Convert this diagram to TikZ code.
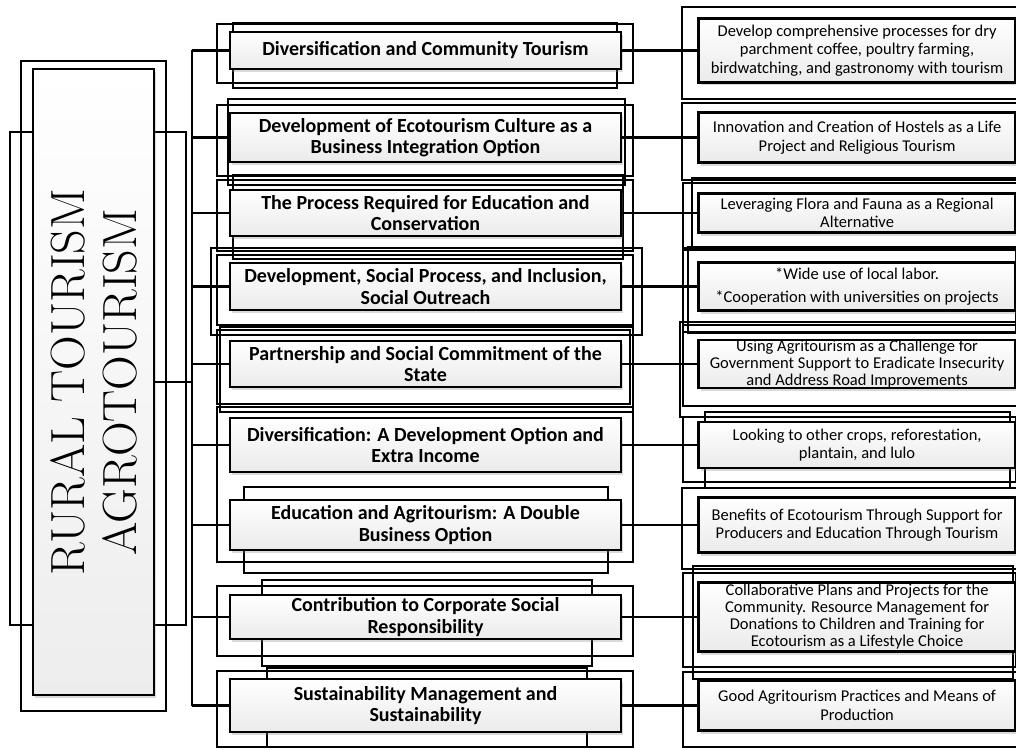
\documentclass[tikz,border=0pt]{standalone}
\usepackage{fontspec}
\newfontfamily\calibri{Carlito}
\usetikzlibrary{positioning,fit,calc,shadows}
\tikzset{
block/.style = {draw, line width=2.6pt, rectangle, align=center, top color=white, bottom color=gray!16,
  drop shadow={shadow xshift=2pt, shadow yshift=-3pt, opacity=.3}, minimum width=391pt, inner sep=0pt,
  font=\calibri\bfseries\fontsize{20}{21.5}\selectfont},
detail/.style = {block, minimum width=317pt, font=\calibri\fontsize{16.5}{18.5}\selectfont},
root/.style = {draw, line width=2.2pt, rectangle, top color=white, bottom color=gray!14,
  drop shadow={shadow xshift=2pt, shadow yshift=-3pt, opacity=.3}, minimum width=121pt, minimum height=626pt},
frame/.style = {draw, line width=1.3pt},
heavyframe/.style = {draw, line width=2.6pt},
link/.style = {line width=2.3pt}
}
\begin{document}
\begin{tikzpicture}[x=1pt, y=-1pt]
    \useasboundingbox (0,0) rectangle (1016,749);
    \clip (0,0) rectangle (1016,749);

    % loose frames behind the boxes
    \draw[frame] (21,61) rectangle (166,711);
    \draw[frame] (10,132) rectangle (186,625);
    \foreach \xa/\ya/\xb/\yb in {217/24/633/83, 233/23/617/88, 217/105/633/176, 228/99/625/185,
        217/180/633/251, 233/175/623/259, 217/255/633/325, 211/248/642/335, 220/327/633/412,
        217/330/630/404, 217/407/633/562, 244/487/608/573, 217/586/633/656, 262/580/592/666,
        217/671/633/747, 267/668/587/747,
        692/178/1020/247, 683/183/1020/248, 683/250/1016/332, 688/247/1020/333, 680/322/1020/417,
        683/325/1020/406, 705/412/1010/488, 683/417/1016/482, 683/573/1016/667, 693/566/1013/679,
        683/672/1020/747}
      \draw[frame] (\xa,\ya) rectangle (\xb,\yb);
    \foreach \xa/\ya/\xb/\yb in {682/7/1020/99, 682/103/1020/180, 682/488/1020/569}
      \draw[heavyframe] (\xa,\ya) rectangle (\xb,\yb);

    \node [root] (root) at (93.5,382) {};
    \node [rotate=90, align=center, font=\fontsize{48}{52}\selectfont] (title) at (root.center)
      {RURAL TOURISM\\AGROTOURISM};

    \node [block, minimum height=37pt] (topic1) at (425.5,50.5) {Diversification and Community Tourism};
    \node [block, minimum height=49pt] (topic2) at (425.5,137.5)
      {Development of Ecotourism Culture as a\\Business Integration Option};
    \node [block, minimum height=46pt] (topic3) at (425.5,213)
      {The Process Required for Education and\\Conservation};
    \node [block, minimum height=47pt] (topic4) at (425.5,286.5)
      {Development, Social Process, and Inclusion,\\Social Outreach};
    \node [block, minimum height=46pt] (topic5) at (425.5,364)
      {Partnership and Social Commitment of the\\State};
    \node [block, minimum height=54pt] (topic6) at (425.5,445)
      {Diversification: A Development Option and\\Extra Income};
    \node [block, minimum height=50pt] (topic7) at (425.5,525)
      {Education and Agritourism: A Double\\Business Option};
    \node [block, minimum height=44pt] (topic8) at (425.5,617)
      {Contribution to Corporate Social\\Responsibility};
    \node [block, minimum height=53pt] (topic9) at (425.5,705.5)
      {Sustainability Management and\\Sustainability};

    \node [detail, minimum height=64pt, right=75pt of topic1] (detail1)
      {Develop comprehensive processes for dry\\parchment coffee, poultry farming,\\birdwatching, and gastronomy with tourism};
    \node [detail, minimum height=50pt, right=75pt of topic2] (detail2)
      {Innovation and Creation of Hostels as a Life\\Project and Religious Tourism};
    \node [detail, minimum height=39pt, right=75pt of topic3] (detail3)
      {Leveraging Flora and Fauna as a Regional\\Alternative};
    \node [detail, minimum height=48pt, right=75pt of topic4] (detail4)
      {*Wide use of local labor.\\[5pt]*Cooperation with universities on projects};
    \node [detail, minimum height=48pt, font=\calibri\fontsize{16.5}{17}\selectfont,
      right=75pt of topic5] (detail5)
      {Using Agritourism as a Challenge for\\Government Support to Eradicate Insecurity\\and Address Road Improvements};
    \node [detail, minimum height=46pt, right=75pt of topic6] (detail6)
      {Looking to other crops, reforestation,\\plantain, and lulo};
    \node [detail, minimum height=55pt, right=75pt of topic7] (detail7)
      {Benefits of Ecotourism Through Support for\\Producers and Education Through Tourism};
    \node [detail, minimum height=69pt, font=\calibri\fontsize{16.5}{17}\selectfont,
      right=75pt of topic8] (detail8)
      {Collaborative Plans and Projects for the\\Community. Resource Management for\\Donations to Children and Training for\\Ecotourism as a Lifestyle Choice};
    \node [detail, minimum height=50pt, right=75pt of topic9] (detail9)
      {Good Agritourism Practices and Means of\\Production};

    \coordinate (spine) at (192,382);
    \draw[link] (root.east |- spine) -- (spine);
    \draw[link] (topic1.west -| spine) -- (topic9.west -| spine);
    \foreach \i in {1,...,9} {
      \draw[link] (topic\i.west -| spine) -- (topic\i.west);
      \draw[link] (topic\i.east) -- (topic\i.east -| detail\i.west);
    }

  \end{tikzpicture}
\end{document}
